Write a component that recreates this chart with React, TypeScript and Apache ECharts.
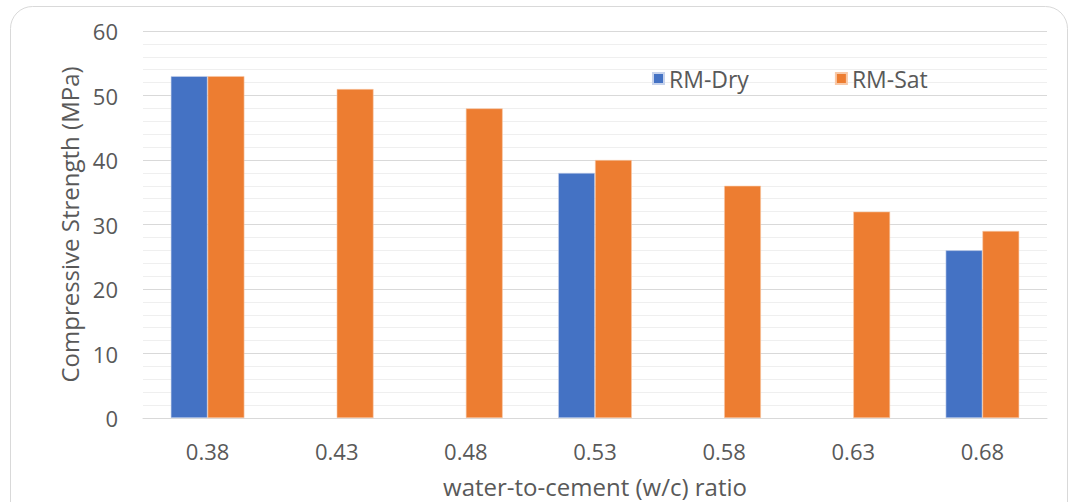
import React, { useEffect, useRef } from "react";
import * as echarts from "echarts";

const categories = ["0.38", "0.43", "0.48", "0.53", "0.58", "0.63", "0.68"];
const rmDry = [53, null, null, 38, null, null, 26];
const rmSat = [53, 51, 48, 40, 36, 32, 29];
const yTicks = { min: 0, max: 60, interval: 10 };

export default function App() {
  const ref = useRef<HTMLDivElement>(null);
  useEffect(() => {
    if (!ref.current) return;
    const chart = echarts.init(ref.current, null, { renderer: "svg" });
    const font = "'Open Sans', 'Noto Sans', sans-serif";
    chart.setOption({
      animation: false,
      textStyle: { fontFamily: font },
      graphic: [
        {
          type: "rect",
          shape: { x: 10.5, y: 6.5, width: 1057, height: 520, r: 22 },
          style: { fill: "#fff", stroke: "#d9d9d9", lineWidth: 1 },
          z: -10,
          silent: true,
        },
      ],
      legend: {
        left: 647,
        top: 62,
        itemWidth: 11,
        itemHeight: 11,
        itemGap: 86,
        icon: "rect",
        textStyle: { fontSize: 23, color: "#595959", fontFamily: font },
        data: ["RM-Dry", "RM-Sat"],
      },
      grid: { left: 143, right: 29, top: 31, bottom: 84, outerBoundsMode: "none", containLabel: false },
      xAxis: {
        type: "category",
        data: categories,
        name: "water-to-cement (w/c) ratio",
        nameLocation: "middle",
        nameGap: 56,
        nameTextStyle: { fontSize: 24, color: "#595959", fontFamily: font },
        axisLine: { lineStyle: { color: "#d9d9d9" } },
        axisTick: { show: false },
        axisLabel: { fontSize: 22, color: "#595959", margin: 22, fontFamily: font },
      },
      yAxis: {
        type: "value",
        min: yTicks.min,
        max: yTicks.max,
        interval: yTicks.interval,
        name: "Compressive Strength (MPa)",
        nameLocation: "middle",
        nameGap: 61,
        nameTextStyle: { fontSize: 24, color: "#595959", fontFamily: font },
        axisLabel: { fontSize: 22, color: "#595959", margin: 25, fontFamily: font },
        axisLine: { show: false },
        axisTick: { show: false },
        splitLine: { lineStyle: { color: "#d9d9d9" } },
        minorTick: { show: false, splitNumber: 5 },
        minorSplitLine: { show: true, lineStyle: { color: "#efefef" } },
      },
      series: [
        {
          name: "RM-Dry",
          type: "bar",
          data: rmDry,
          barGap: "0%",
          barCategoryGap: "43%",
          itemStyle: { color: "#4472c4", borderColor: "#c7d3ec", borderWidth: 0.6 },
        },
        {
          name: "RM-Sat",
          type: "bar",
          data: rmSat,
          barGap: "0%",
          barCategoryGap: "43%",
          itemStyle: { color: "#ed7d31", borderColor: "#f8c9a8", borderWidth: 0.6 },
        },
      ],
    });
    return () => chart.dispose();
  }, []);
  return (
    <div
      ref={ref}
      style={{ position: "fixed", left: 0, top: 0, width: 1076, height: 502, background: "#fff" }}
    />
  );
}
